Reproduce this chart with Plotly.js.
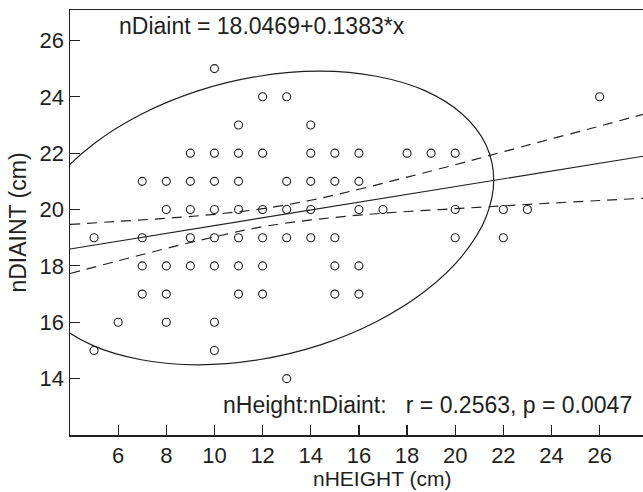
<!DOCTYPE html>
<html>
<head>
<meta charset="utf-8">
<script src="https://cdn.plot.ly/plotly-3.0.1.min.js"></script>
<style>html,body{margin:0;padding:0;background:#fff;}#chart{width:643px;height:492px;}</style>
</head>
<body>
<div id="chart"></div>
<script>
// Observed (unique) data points: nHEIGHT (x) and nDIAINT (y)
var heightX = [5,5, 6, 7,7,7,7, 8,8,8,8,8, 9,9,9,9,9,
  10,10,10,10,10,10,10,10, 11,11,11,11,11,11,11, 12,12,12,12,12,12,
  13,13,13,13,13, 14,14,14,14,14, 15,15,15,15,15, 16,16,16,16,16,
  17, 18, 19, 20,20,20, 22,22, 23, 26];
var diaintY = [19,15, 16, 21,19,18,17, 21,20,18,17,16, 22,21,20,19,18,
  25,22,21,20,19,18,16,15, 23,22,21,20,19,18,17, 24,22,20,19,18,17,
  24,21,20,19,14, 23,22,21,20,19, 22,21,19,18,17, 22,21,20,18,17,
  20, 22, 22, 22,20,19, 20,19, 20, 24];

// Regression line coefficients (from the chart text)
var intercept = 18.0469;
var slope = 0.1383;
var lineX = [4, 27.8];

// Confidence band (dashed)
var bandX     = [4, 6, 8, 10, 12, 14, 16, 18, 20, 22, 24, 26, 27.8];
var bandUpper = [19.47, 19.58, 19.69, 19.83, 20.03, 20.33, 20.72, 21.15, 21.59, 22.05, 22.51, 22.96, 23.38];
var bandLower = [17.73, 18.18, 18.62, 19.03, 19.39, 19.63, 19.80, 19.93, 20.03, 20.13, 20.23, 20.32, 20.40];

// Ellipse outline
var ellX = [21.60, 21.27, 20.29, 18.74, 16.72, 14.37, 11.84, 9.31, 6.96, 4.94, 3.39, 2.41, 2.08, 2.41, 3.39, 4.94, 6.96, 9.31, 11.84, 14.37, 16.72, 18.74, 20.29, 21.27, 21.60];
var ellY = [21.06, 22.31, 23.39, 24.22, 24.73, 24.91, 24.73, 24.21, 23.38, 22.30, 21.04, 19.69, 18.34, 17.09, 16.01, 15.18, 14.67, 14.49, 14.67, 15.19, 16.02, 17.10, 18.36, 19.71, 21.06];

var xTicks = [6, 8, 10, 12, 14, 16, 18, 20, 22, 24, 26];
var yTicks = [14, 16, 18, 20, 22, 24, 26];

var ink = '#231f20';
var lineY = lineX.map(function(x){ return intercept + slope * x; });

var traces = [
  {x: ellX, y: ellY, mode: 'lines', line: {color: ink, width: 1.2, shape: 'spline'}, hoverinfo: 'skip'},
  {x: lineX, y: lineY, mode: 'lines', line: {color: ink, width: 1.2}},
  {x: bandX, y: bandUpper, mode: 'lines', line: {color: ink, width: 1.2, dash: '10px,7px', shape: 'spline'}},
  {x: bandX, y: bandLower, mode: 'lines', line: {color: ink, width: 1.2, dash: '10px,7px', shape: 'spline'}},
  {x: heightX, y: diaintY, mode: 'markers', marker: {symbol: 'circle-open', size: 8, color: ink, line: {width: 1.1, color: ink}}}
];

var fam = '"Liberation Sans", Arial, sans-serif';
var fs = 23;
var tfs = 22;

var layout = {
  width: 643, height: 492,
  margin: {l: 70, r: 0, t: 10, b: 57},
  paper_bgcolor: '#fff', plot_bgcolor: '#fff',
  showlegend: false,
  font: {family: fam, size: fs, color: ink},
  xaxis: {
    range: [4, 27.8], tickvals: xTicks, ticktext: xTicks.map(String),
    ticks: 'inside', ticklen: 10, tickwidth: 1.2, tickcolor: ink,
    showline: true, linecolor: ink, linewidth: 1.5, mirror: true,
    showgrid: false, zeroline: false,
    tickfont: {family: fam, size: tfs, color: ink}
  },
  yaxis: {
    range: [12, 27.08], tickvals: yTicks, ticktext: yTicks.map(String),
    ticks: 'inside', ticklen: 10, tickwidth: 1.2, tickcolor: ink,
    showline: true, linecolor: ink, linewidth: 1.5,
    showgrid: false, zeroline: false,
    tickfont: {family: fam, size: tfs, color: ink},
    title: {text: 'nDIAINT (cm)', font: {family: fam, size: fs, color: ink}, standoff: 6}
  },
  annotations: [
    {xref: 'paper', yref: 'paper', x: 0.0825, y: 0.998, xanchor: 'left', yanchor: 'top', showarrow: false,
     text: 'nDiaint = 18.0469+0.1383*x', font: {family: fam, size: fs, color: ink}},
    {xref: 'paper', yref: 'paper', x: 0.985, y: 0.035, xanchor: 'right', yanchor: 'bottom', showarrow: false,
     text: 'nHeight:nDiaint:   r = 0.2563, p = 0.0047', font: {family: fam, size: fs, color: ink}},
    {xref: 'paper', yref: 'paper', x: 0.545, y: -0.103, xanchor: 'center', yanchor: 'middle', showarrow: false,
     text: 'nHEIGHT (cm)', font: {family: fam, size: 21, color: ink}}
  ]
};

Plotly.newPlot('chart', traces, layout, {displayModeBar: false, staticPlot: true});
</script>
</body>
</html>
